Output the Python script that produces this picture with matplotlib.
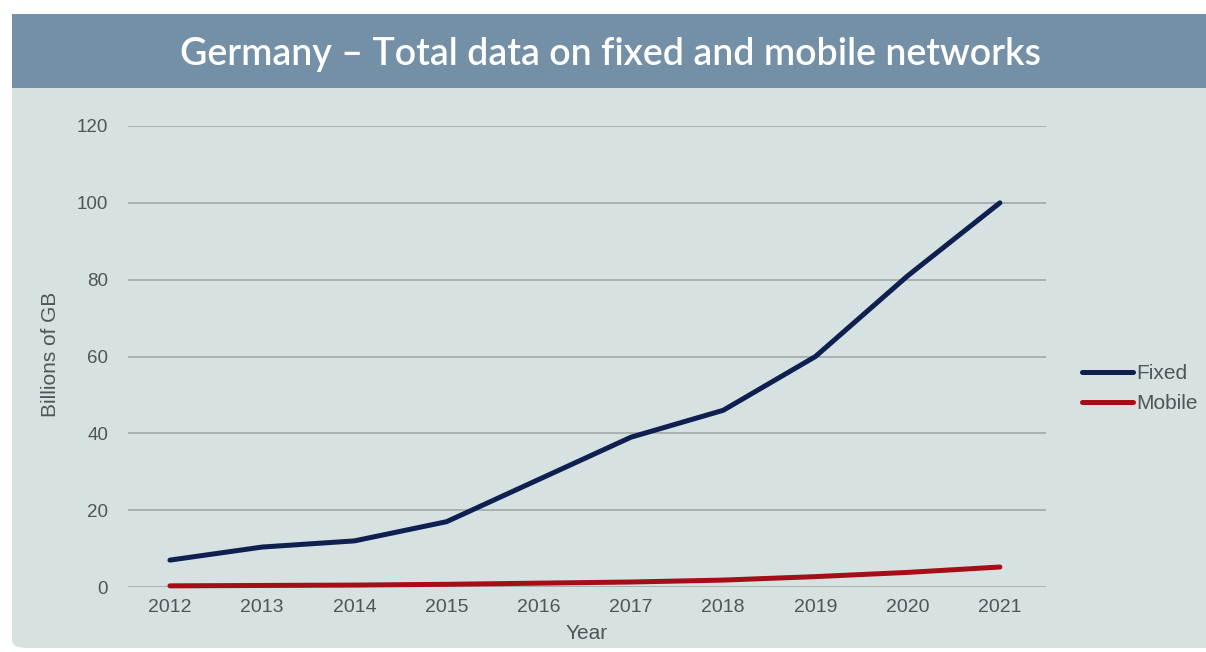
import matplotlib
matplotlib.use("Agg")
import matplotlib.pyplot as plt
from matplotlib.patches import FancyBboxPatch, Rectangle

years = [2012, 2013, 2014, 2015, 2016, 2017, 2018, 2019, 2020, 2021]
fixed = [7, 10.4, 12, 17, 28, 39, 46, 60, 81, 100]
mobile = [0.3, 0.4, 0.5, 0.7, 1.0, 1.3, 1.8, 2.7, 3.8, 5.2]
yticks = [0, 20, 40, 60, 80, 100, 120]
title = "Germany \u2013 Total data on fixed and mobile networks"

W, H = 1206, 652
fig = plt.figure(figsize=(W / 100, H / 100), dpi=100)
fig.patch.set_facecolor("white")

bg = "#d6e1e1"
banner = "#7490a6"
txt = "#505558"
panel = FancyBboxPatch((12 / W, 4 / H), (W + 20 - 12) / W, (638 - 4) / H,
                       boxstyle="round,pad=0,rounding_size=0.012",
                       transform=fig.transFigure, facecolor=bg, edgecolor="none",
                       zorder=-2)
fig.patches.append(panel)
fig.patches.append(Rectangle((12 / W, (H - 88) / H), (W - 12) / W, 74 / H,
                             transform=fig.transFigure, facecolor=banner,
                             edgecolor="none", zorder=-1))
fig.text(611 / W, (H - 55) / H, title, color="white", fontsize=27,
         fontweight="semibold", family="Lato", ha="center", va="center", zorder=2)

ax = fig.add_axes([128 / W, (H - 587) / H, (1046 - 128) / W, (587 - 126) / H])
ax.set_zorder(1)
ax.set_facecolor("none")
ax.set_xlim(2011.545, 2021.5)
ax.set_ylim(0, 120)
for s in ax.spines.values():
    s.set_visible(False)
ax.set_yticks(yticks)
ax.set_xticks(years)
ax.grid(axis="y", color="#a8b0b0", linewidth=1.4)
ax.set_axisbelow(True)
ax.tick_params(axis="x", length=0, labelsize=14, labelcolor=txt, pad=9)
ax.tick_params(axis="y", length=0, labelsize=13.5, labelcolor=txt, pad=14.4)
for lab in ax.get_xticklabels() + ax.get_yticklabels():
    lab.set_family("Liberation Sans")

ax.plot(years, fixed, color="#0e1f50", linewidth=3.6, solid_capstyle="round",
        solid_joinstyle="round", label="Fixed", clip_on=False, zorder=3)
ax.plot(years, mobile, color="#a50e16", linewidth=3.6, solid_capstyle="round",
        solid_joinstyle="round", label="Mobile", clip_on=False, zorder=3)

ax.set_xlabel("Year", fontsize=15, color=txt, family="Liberation Sans")
ax.xaxis.set_label_coords(0.5, (587 - 624) / 461)
ax.set_ylabel("Billions of GB", fontsize=15, color=txt, family="Liberation Sans")
ax.yaxis.set_label_coords((50 - 128) / 918, (587 - 354) / 461)
ax.yaxis.label.set_va("center")

leg = ax.legend(loc="center left", bbox_to_anchor=(1.0185, 0.43), frameon=False,
                handlelength=2.45, handletextpad=0.15, labelspacing=0.55,
                prop={"family": "Liberation Sans", "size": 15})
for t in leg.get_texts():
    t.set_color(txt)

fig.savefig("out.png", dpi=100, facecolor="white")
